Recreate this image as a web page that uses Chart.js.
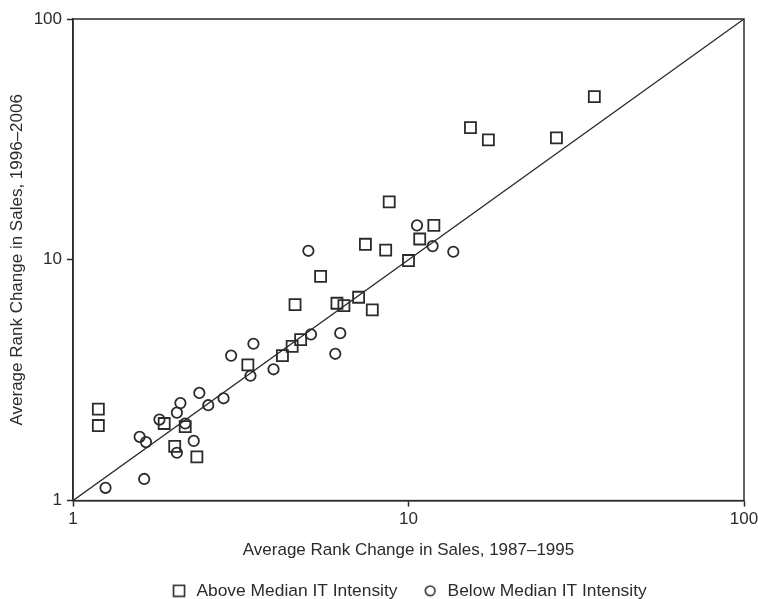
<!DOCTYPE html>
<html>
<head>
<meta charset="utf-8">
<script src="https://cdn.jsdelivr.net/npm/chart.js@4.4.1/dist/chart.umd.min.js"></script>
<style>
  html, body { margin: 0; padding: 0; background: #fff; }
  #wrap { width: 758px; height: 599px; }
</style>
</head>
<body>
<div id="wrap"><canvas id="rankChart"></canvas></div>
<script>
// data (log-log axes)
var aboveX = [1.19, 1.19, 1.87, 2.16, 2.01, 2.34, 3.32, 4.21, 4.50, 4.77, 4.59, 5.47, 6.12, 6.42, 7.10, 7.80, 7.44, 8.55, 8.76, 10.0, 10.8, 11.9, 15.3, 17.3, 27.6, 35.8];
var aboveY = [2.40, 2.05, 2.09, 2.03, 1.68, 1.52, 3.66, 4.00, 4.37, 4.66, 6.51, 8.54, 6.60, 6.45, 6.99, 6.20, 11.6, 10.97, 17.4, 9.93, 12.2, 13.9, 35.4, 31.5, 32.1, 47.6];
var belowX = [1.25, 1.63, 1.58, 1.65, 1.81, 2.04, 2.09, 2.38, 2.53, 2.81, 2.29, 2.04, 2.16, 3.38, 2.96, 3.45, 3.96, 5.12, 6.26, 6.05, 5.03, 10.6, 11.8, 13.6];
var belowY = [1.13, 1.23, 1.84, 1.75, 2.17, 2.32, 2.54, 2.80, 2.49, 2.66, 1.77, 1.58, 2.09, 3.30, 4.00, 4.48, 3.51, 4.90, 4.96, 4.07, 10.9, 13.9, 11.4, 10.8];
var diagX = [1, 100];
var diagY = [1, 100];
var axisTicks = [1, 10, 100];
var seriesNames = ["Above Median IT Intensity", "Below Median IT Intensity"];
var xTitle = "Average Rank Change in Sales, 1987\u20131995";
var yTitle = "Average Rank Change in Sales, 1996\u20132006";

var ink = "#2b2b2b";
var font = { family: "'Liberation Sans', Arial, sans-serif", size: 17 };

function pairs(xs, ys) {
  return xs.map((x, i) => ({ x: x, y: ys[i] }));
}

// small legend icons so square and circle get their own sizes
function legendIcon(kind) {
  let c = document.createElement("canvas");
  c.width = 14;
  c.height = 14;
  let g = c.getContext("2d");
  g.strokeStyle = ink;
  g.lineWidth = 1.6;
  if (kind === "rect") {
    g.strokeRect(1.5, 1.5, 11, 11);
  } else {
    g.beginPath();
    g.arc(7, 7, 4.8, 0, Math.PI * 2);
    g.stroke();
  }
  return c;
}
var icons = [legendIcon("rect"), legendIcon("circle")];

// box around the plot (top and right sides)
var frame = {
  id: "frame",
  afterDraw(chart) {
    let a = chart.chartArea;
    let ctx = chart.ctx;
    ctx.save();
    ctx.strokeStyle = ink;
    ctx.lineWidth = 1.5;
    ctx.strokeRect(a.left, a.top, a.right - a.left, a.bottom - a.top);
    ctx.restore();
  }
};

function onlyDecades(scale) {
  scale.ticks = axisTicks.map(v => ({ value: v }));
}

var rankChart = new Chart(document.getElementById("rankChart"), {
  type: "scatter",
  data: {
    datasets: [
      {
        label: seriesNames[0],
        data: pairs(aboveX, aboveY),
        pointStyle: "rect",
        pointRadius: 7.8,
        pointBorderWidth: 1.8,
        borderColor: ink,
        backgroundColor: "rgba(0,0,0,0)"
      },
      {
        label: seriesNames[1],
        data: pairs(belowX, belowY),
        pointStyle: "circle",
        pointRadius: 5.2,
        pointBorderWidth: 1.8,
        borderColor: ink,
        backgroundColor: "rgba(0,0,0,0)"
      },
      {
        type: "line",
        label: "diag",
        data: pairs(diagX, diagY),
        borderColor: ink,
        borderWidth: 1.3,
        pointRadius: 0,
        fill: false
      }
    ]
  },
  options: {
    responsive: true,
    maintainAspectRatio: false,
    animation: false,
    layout: { padding: { top: 19, right: 14, left: 0, bottom: -10.5 } },
    plugins: {
      tooltip: { enabled: false },
      legend: {
        position: "bottom",
        fullSize: false,
        labels: {
          font: { family: font.family, size: 17.4 },
          color: ink,
          usePointStyle: true,
          boxWidth: 20,
          boxHeight: 12,
          padding: 24,
          generateLabels(chart) {
            return seriesNames.map((name, i) => ({
              text: name,
              datasetIndex: i,
              pointStyle: icons[i],
              fontColor: ink,
              strokeStyle: ink,
              fillStyle: "rgba(0,0,0,0)",
              lineWidth: 0,
              hidden: false
            }));
          }
        }
      }
    },
    scales: {
      x: {
        type: "logarithmic",
        min: 1,
        max: 100,
        afterBuildTicks: onlyDecades,
        afterFit(scale) {
          scale.height = 57.5;
          scale.paddingRight = 0;
        },
        grid: { drawOnChartArea: false, tickLength: 6, tickColor: ink, tickWidth: 1.5 },
        border: { color: ink, width: 1.5 },
        ticks: { font: font, color: ink, padding: 3, maxRotation: 0, callback: v => String(v) },
        title: { display: true, text: xTitle, font: font, color: ink, padding: { top: 0, bottom: -2.7 } }
      },
      y: {
        type: "logarithmic",
        min: 1,
        max: 100,
        afterBuildTicks: onlyDecades,
        afterFit(scale) { scale.width = 73; },
        grid: { drawOnChartArea: false, tickLength: 6, tickColor: ink, tickWidth: 1.5 },
        border: { color: ink, width: 1.5 },
        ticks: { font: font, color: ink, padding: 5, callback: v => String(v) },
        title: { display: true, text: yTitle, font: font, color: ink, padding: { top: 7, bottom: 0 } }
      }
    }
  },
  plugins: [frame]
});
</script>
</body>
</html>
